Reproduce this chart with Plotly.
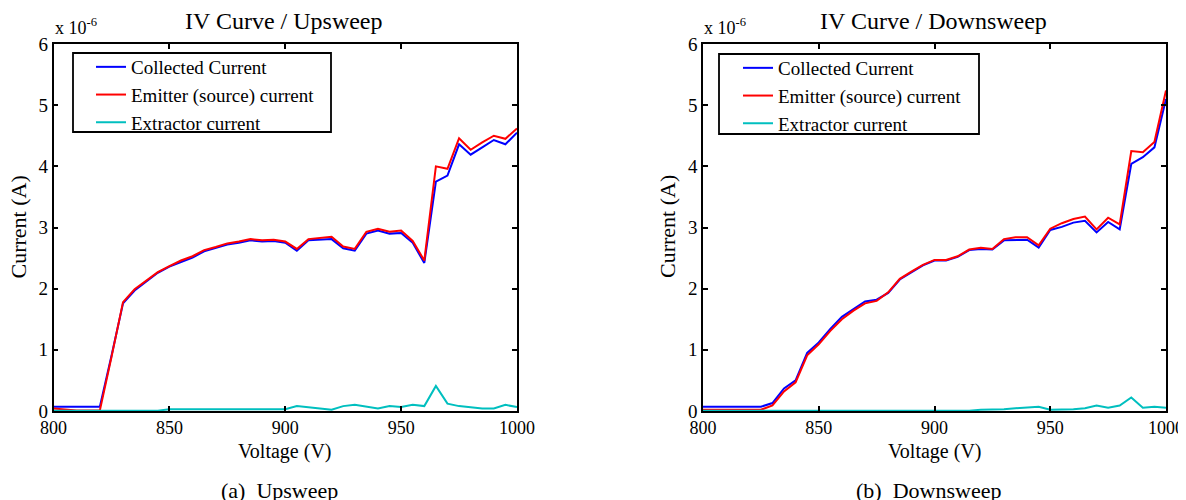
import plotly.graph_objects as go

# Data (current values in units of 1e-6 A)
voltage = [800, 805, 810, 815, 820, 825, 830, 835, 840, 845, 850, 855, 860, 865, 870, 875, 880,
           885, 890, 895, 900, 905, 910, 915, 920, 925, 930, 935, 940, 945, 950, 955, 960, 965,
           970, 975, 980, 985, 990, 995, 1000]

up_collected = [0.07, 0.07, 0.07, 0.07, 0.07, 0.90, 1.76, 1.97, 2.12, 2.26, 2.36, 2.44, 2.51, 2.61,
                2.66, 2.72, 2.75, 2.79, 2.77, 2.78, 2.75, 2.62, 2.79, 2.80, 2.81, 2.66, 2.62, 2.90,
                2.95, 2.90, 2.91, 2.75, 2.42, 3.75, 3.85, 4.36, 4.19, 4.31, 4.43, 4.36, 4.55]
up_emitter = [0.04, 0.02, 0.01, 0.01, 0.01, 0.88, 1.78, 1.99, 2.13, 2.27, 2.37, 2.46, 2.53, 2.63,
              2.68, 2.74, 2.77, 2.81, 2.79, 2.80, 2.77, 2.65, 2.81, 2.83, 2.85, 2.69, 2.65, 2.93,
              2.98, 2.93, 2.95, 2.78, 2.46, 4.00, 3.96, 4.46, 4.27, 4.39, 4.50, 4.45, 4.62]
up_extractor = [0.005, 0.005, 0.005, 0.005, 0.005, 0.005, 0.005, 0.005, 0.005, 0.005,
                0.03, 0.03, 0.03, 0.03, 0.03, 0.03, 0.03, 0.03, 0.03, 0.03, 0.03,
                0.08, 0.055, 0.04, 0.02, 0.08, 0.10, 0.065, 0.04, 0.08, 0.065, 0.10, 0.08,
                0.41, 0.12, 0.08, 0.065, 0.04, 0.04, 0.10, 0.065]

down_collected = [0.07, 0.07, 0.07, 0.07, 0.07, 0.07, 0.13, 0.37, 0.50, 0.95, 1.12, 1.34, 1.54,
                  1.66, 1.79, 1.82, 1.93, 2.15, 2.27, 2.38, 2.46, 2.46, 2.52, 2.63, 2.65, 2.64,
                  2.79, 2.80, 2.80, 2.67, 2.96, 3.01, 3.08, 3.11, 2.92, 3.09, 2.97, 4.04, 4.15,
                  4.31, 5.10]
down_emitter = [0.02, 0.02, 0.02, 0.02, 0.02, 0.02, 0.09, 0.32, 0.47, 0.91, 1.09, 1.31, 1.50,
                1.64, 1.76, 1.80, 1.94, 2.16, 2.28, 2.39, 2.47, 2.47, 2.53, 2.64, 2.67, 2.65,
                2.81, 2.84, 2.84, 2.71, 2.98, 3.07, 3.14, 3.18, 2.97, 3.16, 3.05, 4.25, 4.23,
                4.40, 5.24]
down_extractor = [0.005] * 24 + [0.02, 0.02, 0.03, 0.045, 0.055, 0.07, 0.02, 0.02, 0.03, 0.045,
                                 0.09, 0.055, 0.09, 0.22, 0.055, 0.07, 0.055]

series_names = ["Collected Current", "Emitter (source) current", "Extractor current"]
series_colors = ["#0000FF", "#FF0000", "#00BFBF"]
x_ticks = [800, 850, 900, 950, 1000]
y_ticks = [0, 1, 2, 3, 4, 5, 6]
titles = ["IV Curve / Upsweep", "IV Curve / Downsweep"]
captions = ["(a)  Upsweep", "(b)  Downsweep"]

FONT = "Liberation Serif, Times New Roman, serif"
OFF = 8                      # default page body margin
W, H = 1186 - OFF, 500 - OFF  # figure size


def fx(px):  # page pixel -> paper fraction
    return (px - OFF) / W


def fy(py):
    return 1 - (py - OFF) / H


fig = go.Figure()

panels = [
    ((up_collected, up_emitter, up_extractor), "x", "y", "legend"),
    ((down_collected, down_emitter, down_extractor), "x2", "y2", "legend2"),
]
for vals3, xa, ya, lg in panels:
    for name, color, vals in zip(series_names, series_colors, vals3):
        fig.add_trace(go.Scatter(x=voltage, y=vals, mode="lines", name=name,
                                 line=dict(color=color, width=2),
                                 xaxis=xa, yaxis=ya, legend=lg))

px_l = [(53.5, 517), (703, 1166)]
y_top, y_bot = 44, 411


def axis_common(size):
    return dict(showline=True, linecolor="black", linewidth=1.5, mirror="allticks",
                ticks="inside", ticklen=5, tickwidth=1.5, tickcolor="black",
                showgrid=False, zeroline=False, automargin=False,
                tickfont=dict(family=FONT, size=size, color="black"))


for i, (l, r) in enumerate(px_l):
    sfx = "" if i == 0 else str(i + 1)
    xa = axis_common(18)
    xa.update(domain=[fx(l), fx(r)], range=[800, 1000], tickvals=x_ticks,
              anchor="y" + sfx)
    ya = axis_common(19)
    ya.update(domain=[fy(y_bot), fy(y_top)], range=[0, 6], tickvals=y_ticks,
              anchor="x" + sfx)
    fig.layout["xaxis" + sfx] = xa
    fig.layout["yaxis" + sfx] = ya

legend_style = dict(bgcolor="rgba(0,0,0,0)", borderwidth=0,
                    font=dict(family=FONT, size=19, color="black"),
                    xanchor="left", yanchor="top", tracegroupgap=0)
fig.update_layout(
    width=W, height=H, margin=dict(l=0, r=0, t=0, b=0, autoexpand=False),
    plot_bgcolor="white", paper_bgcolor="white",
    legend=dict(x=fx(91), y=fy(48), **legend_style),
    legend2=dict(x=fx(738), y=fy(49), **legend_style),
)

# legend frames
legend_boxes = [(73, 331, 53, 132), (719, 979, 54, 134)]
shapes = []
for (x0, x1, y0, y1) in legend_boxes:
    shapes.append(dict(type="rect", xref="paper", yref="paper",
                       x0=fx(x0), x1=fx(x1), y0=fy(y1), y1=fy(y0),
                       line=dict(color="black", width=1.8), fillcolor="white", layer="above"))
fig.update_layout(shapes=shapes)

ann = []
for i, (l, r) in enumerate(px_l):
    cx = (l + r) / 2
    ann.append(dict(text=titles[i], x=fx(cx - 1.5), y=fy(21), xref="paper", yref="paper",
                    showarrow=False, xanchor="center", yanchor="middle",
                    font=dict(family=FONT, size=24, color="black")))
    ann.append(dict(text="x 10<sup>-6</sup>", x=fx(l - 1), y=fy(40), xref="paper",
                    yref="paper", showarrow=False, xanchor="left", yanchor="bottom",
                    font=dict(family=FONT, size=18, color="black")))
    ann.append(dict(text="Voltage (V)", x=fx(cx), y=fy(451), xref="paper", yref="paper",
                    showarrow=False, xanchor="center", yanchor="middle",
                    font=dict(family=FONT, size=20, color="black")))
    ann.append(dict(text="Current (A)", x=fx(l - 35), y=fy(227), xref="paper",
                    yref="paper", showarrow=False, xanchor="center", yanchor="middle",
                    textangle=-90, font=dict(family=FONT, size=22, color="black")))
    ann.append(dict(text=captions[i], x=fx(cx - 6), y=fy(490), xref="paper", yref="paper",
                    showarrow=False, xanchor="center", yanchor="middle",
                    font=dict(family=FONT, size=22, color="black")))
fig.update_layout(annotations=ann)

fig.write_html("out.html")
